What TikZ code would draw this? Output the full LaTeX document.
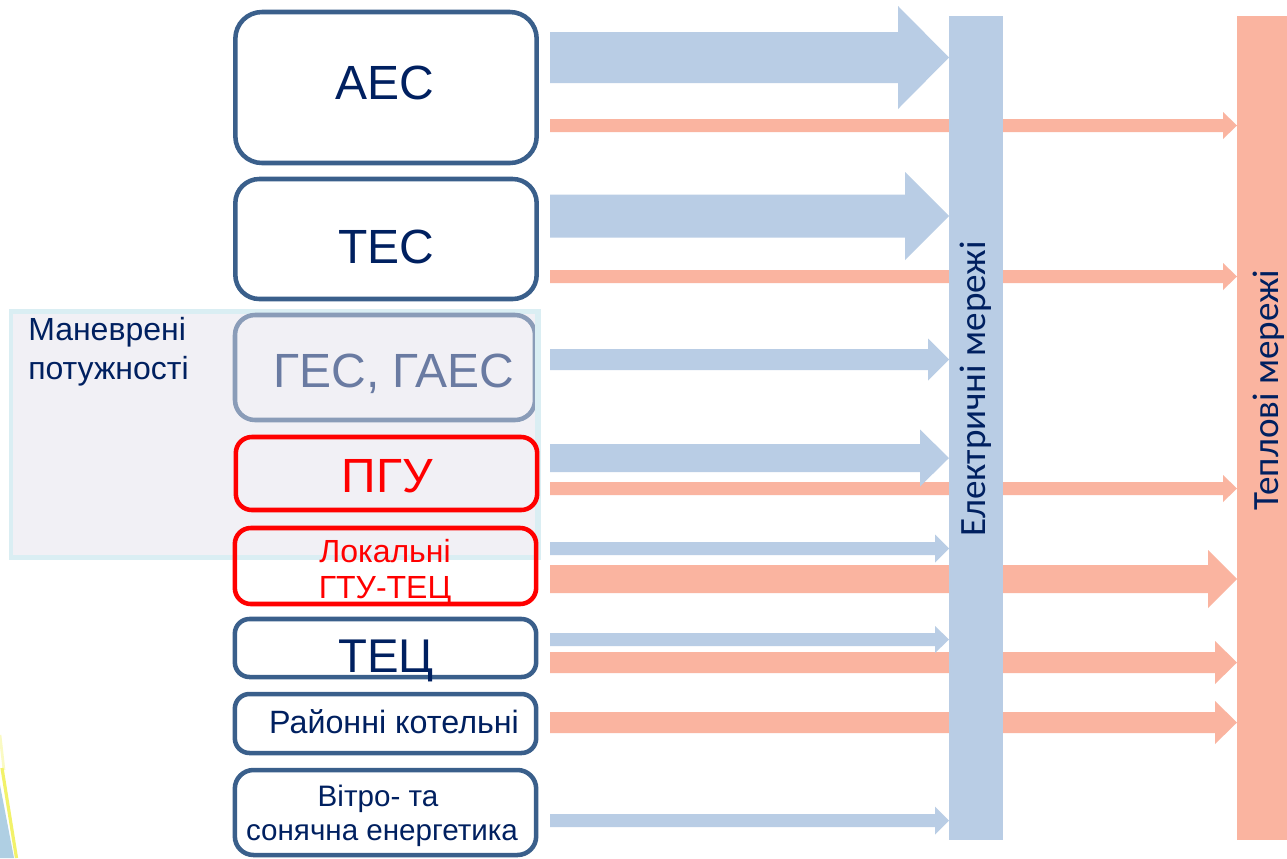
\documentclass[tikz,border=0pt]{standalone}
\usepackage{fontspec}
\setmainfont{Liberation Sans}
\newfontfamily\calib{Carlito}
\definecolor{navy}{HTML}{002060}
\definecolor{boxblue}{HTML}{3A5F8B}
\definecolor{elblue}{HTML}{B9CDE5}
\definecolor{salmon}{HTML}{FAB4A0}
\definecolor{manfill}{HTML}{F1F0F5}
\definecolor{mancyan}{HTML}{DAEEF3}
\definecolor{gesline}{HTML}{8A9CB8}
\definecolor{gestext}{HTML}{6A7BA2}
\definecolor{cornerblue}{HTML}{AFCFE3}
\definecolor{corneryellow}{HTML}{F2F26A}
\newcommand{\blockarr}[7]{%
  \fill[#1] (#2,{#5-#6}) -- (#3,{#5-#6}) -- (#3,{#5-#7}) -- (#4,#5) -- (#3,{#5+#7}) -- (#3,{#5+#6}) -- (#2,{#5+#6}) -- cycle;}
\begin{document}
\begin{tikzpicture}[x=0.75pt,y=-0.75pt,
  srcbox/.style={draw=boxblue, line width=3.4pt, inner sep=0pt, minimum width=226pt},
  redbox/.style={draw=red, line width=3.4pt, inner sep=0pt, minimum width=226pt},
  lbl/.style={anchor=base, inner sep=0pt, text=navy},
  barlbl/.style={anchor=base, inner sep=0pt, text=navy, rotate=90, font=\calib\fontsize{27.8}{30}\selectfont}]
\useasboundingbox (0,0) rectangle (1287,858);
\fill[white] (0,0) rectangle (1287,858);
% corner decoration
\fill[cornerblue] (0,785) -- (14,858) -- (0,858) -- cycle;
\draw[corneryellow!40!white, line width=2pt] (0,735) -- (4,770);
\draw[corneryellow, line width=2.4pt] (2,768) -- (16.5,858);

% heat arrows (behind electric bar)
\blockarr{salmon}{550}{1223}{1237}{125.5}{6.5}{13.5}
\blockarr{salmon}{550}{1223}{1237}{276.5}{6.5}{13.5}
\blockarr{salmon}{550}{1223}{1237}{488.5}{6.5}{13.5}
\blockarr{salmon}{550}{1208}{1237}{579}{14}{29}
\blockarr{salmon}{550}{1215}{1237}{662.5}{10.5}{21.5}
\blockarr{salmon}{550}{1215}{1237}{722.5}{10.5}{21.5}

% bars
\node[fill=elblue, inner sep=0pt, minimum width=40.5pt, minimum height=618pt, anchor=north west] (el) at (949,16) {};
\node[fill=salmon, inner sep=0pt, minimum width=37.5pt, minimum height=618pt, anchor=north west] (heat) at (1237,16) {};
\node[barlbl] (eltxt) at (985,389) {Електричні мережі};
\node[barlbl] (heattxt) at (1278,390) {Теплові мережі};

% electric arrows
\blockarr{elblue}{550}{898}{949}{57.5}{25.5}{51.5}
\blockarr{elblue}{550}{905}{949}{216}{21.5}{44}
\blockarr{elblue}{550}{928}{949}{359.5}{10.5}{21}
\blockarr{elblue}{550}{920}{949}{458}{14}{28.5}
\blockarr{elblue}{550}{935}{949}{548.5}{6.5}{14}
\blockarr{elblue}{550}{935}{949}{639.5}{6.5}{13.5}
\blockarr{elblue}{550}{935}{949}{820.5}{6.5}{14}

% top boxes
\node[srcbox, rounded corners=20pt, minimum height=113.25pt] (aes) at (386,87.5) {};
\node[lbl, font=\fontsize{36}{40}\selectfont] (aestxt) at (385,99) {АЕС};
\node[srcbox, rounded corners=18pt, minimum height=90pt] (tes) at (386,239) {};
\node[lbl, font=\fontsize{36}{40}\selectfont] (testxt) at (386,263) {ТЕС};

% manoeuvrable group
\node[fill=manfill, draw=mancyan, line width=3.4pt, inner sep=0pt, minimum width=396pt, minimum height=184.5pt, anchor=north west] (man) at (8.5,309) {};
\node[lbl, anchor=base west, font=\fontsize{24}{28}\selectfont] (mantxt1) at (28,340) {Маневрені};
\node[lbl, anchor=base west, font=\fontsize{24}{28}\selectfont] (mantxt2) at (28,379) {потужності};
\node[draw=gesline, line width=3.4pt, inner sep=0pt, minimum width=225pt, minimum height=78.75pt, rounded corners=15pt] (ges) at (385,367.5) {};
\node[lbl, text=gestext, font=\fontsize{36}{40}\selectfont] (gestxt) at (394,387) {ГЕС, ГАЕС};
\draw[mancyan, line width=3.4pt] (537,309) -- (537,555);
\node[redbox, rounded corners=12pt, minimum height=54.75pt] (pgu) at (386.5,473.5) {};
\node[lbl, text=red, font=\fontsize{36}{40}\selectfont] (pgutxt) at (387,492) {ПГУ};
\node[redbox, rounded corners=12pt, minimum height=57pt] (lok) at (385.5,566) {};
\node[lbl, text=red, font=\fontsize{24}{28}\selectfont] (loktxt1) at (385,562) {Локальні};
\node[lbl, text=red, font=\fontsize{24}{28}\selectfont] (loktxt2) at (385,598) {ГТУ-ТЕЦ};

% lower boxes
\node[srcbox, rounded corners=11pt, minimum height=43.5pt] (tec) at (385.5,648) {};
\node[lbl, font=\fontsize{35.5}{40}\selectfont] (tectxt) at (386,672) {ТЕЦ};
\node[srcbox, rounded corners=11pt, minimum height=44.25pt] (kot) at (385.5,723.5) {};
\node[lbl, font=\fontsize{24.2}{28}\selectfont] (kottxt) at (394,733) {Районні котельні};
\node[srcbox, rounded corners=14pt, minimum height=63.75pt] (vit) at (385.5,812.5) {};
\node[lbl, font=\fontsize{22.2}{26}\selectfont] (vittxt1) at (378,806) {Вітро- та};
\node[lbl, font=\fontsize{22.2}{26}\selectfont] (vittxt2) at (382,840) {сонячна енергетика};
\end{tikzpicture}
\end{document}
